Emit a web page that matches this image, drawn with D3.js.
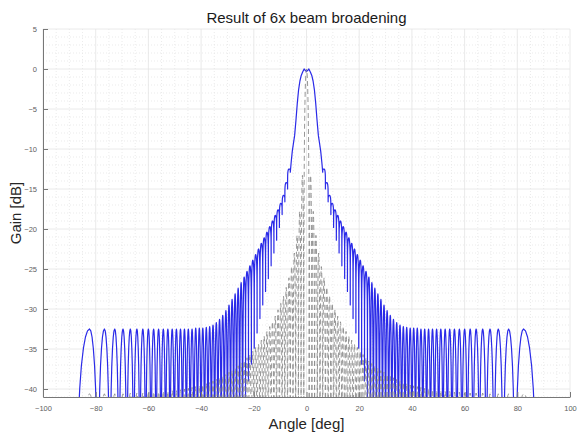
<!DOCTYPE html>
<html><head><meta charset="utf-8">
<script src="https://cdn.jsdelivr.net/npm/d3@7"></script>
<style>body{margin:0;background:#fff} svg{display:block;font-family:Arial,"Liberation Sans",sans-serif}</style>
</head><body><svg id="c" width="578" height="436"></svg>
<script>
const titleText = "Result of 6x beam broadening";
const xLabelText = "Angle [deg]";
const yLabelText = "Gain [dB]";
const angleTicks = [-100,-80,-60,-40,-20,0,20,40,60,80,100];
const gainTicks = [5,0,-5,-10,-15,-20,-25,-30,-35,-40];

// lobe peak angles (deg), left to right, centre lobe = 0
const lobeAngles = [-82.34,-76.70,-72.78,-69.64,-66.86,-64.37,-62.11,-60.00,-58.02,-56.14,-54.34,-52.62,-50.97,-49.37,-47.82,-46.32,-44.85,-43.43,-42.04,-40.68,-39.35,-38.03,-36.75,-35.48,-34.23,-33.00,-31.79,-30.59,-29.41,-28.24,-27.09,-25.94,-24.81,-23.69,-22.58,-21.47,-20.38,-19.29,-18.21,-17.14,-16.07,-15.01,-13.95,-12.90,-11.85,-10.81,-9.77,-8.73,-7.70,-6.67,-5.64,-4.61,-3.58,-2.56,-1.54,
 0,
 1.54,2.56,3.58,4.61,5.64,6.67,7.70,8.73,9.77,10.81,11.85,12.90,13.95,15.01,16.07,17.14,18.21,19.29,20.38,21.47,22.58,23.69,24.81,25.94,27.09,28.24,29.41,30.59,31.79,33.00,34.23,35.48,36.75,38.03,39.35,40.68,42.04,43.43,44.85,46.32,47.82,49.37,50.97,52.62,54.34,56.14,58.02,60.00,62.11,64.37,66.86,69.64,72.78,76.70,82.34];

// null / valley angles (deg) between lobes
const nullAngles = [-87.5,-79.15,-74.64,-71.17,-68.21,-65.60,-63.24,-61.05,-59.00,-57.07,-55.23,-53.47,-51.79,-50.16,-48.59,-47.06,-45.59,-44.14,-42.74,-41.36,-40.01,-38.68,-37.38,-36.11,-34.85,-33.61,-32.39,-31.19,-30.00,-28.82,-27.66,-26.52,-25.38,-24.25,-23.13,-22.02,-20.92,-19.83,-18.75,-17.67,-16.60,-15.54,-14.48,-13.42,-12.37,-11.33,-10.29,-9.25,-8.21,-7.18,-6.15,-5.12,-4.10,-3.07,-2.05,-1.02,
 1.02,2.05,3.07,4.10,5.12,6.15,7.18,8.21,9.25,10.29,11.33,12.37,13.42,14.48,15.54,16.60,17.67,18.75,19.83,20.92,22.02,23.13,24.25,25.38,26.52,27.66,28.82,30.00,31.19,32.39,33.61,34.85,36.11,37.38,38.68,40.01,41.36,42.74,44.14,45.59,47.06,48.59,50.16,51.79,53.47,55.23,57.07,59.00,61.05,63.24,65.60,68.21,71.17,74.64,79.15,87.5];

// broadened beam (blue): sidelobe peak levels, dB (null = inside main lobe)
const bluePeakDb = [-32.5,-32.5,-32.5,-32.5,-32.5,-32.5,-32.5,-32.5,-32.5,-32.5,-32.5,-32.5,-32.5,-32.5,-32.5,-32.5,-32.5,-32.5,-32.4,-32.4,-32.4,-32.3,-32.2,-32.0,-31.7,-31.3,-30.8,-30.2,-29.5,-28.8,-28.1,-27.4,-26.7,-26.0,-25.3,-24.6,-23.9,-23.2,-22.5,-21.8,-21.1,-20.4,-19.7,-19.0,-18.3,-17.6,-16.8,-15.8,-14.2,-12.5,null,null,null,null,null,
 null,
 null,null,null,null,null,-12.5,-14.2,-15.8,-16.8,-17.6,-18.3,-19.0,-19.7,-20.4,-21.1,-21.8,-22.5,-23.2,-23.9,-24.6,-25.3,-26.0,-26.7,-27.4,-28.1,-28.8,-29.5,-30.2,-30.8,-31.3,-31.7,-32.0,-32.2,-32.3,-32.4,-32.4,-32.4,-32.5,-32.5,-32.5,-32.5,-32.5,-32.5,-32.5,-32.5,-32.5,-32.5,-32.5,-32.5,-32.5,-32.5,-32.5,-32.5,-32.5,-32.5];

// broadened beam (blue): valley levels at the nulls, dB (null = true null)
const blueValleyDb = [null,null,null,null,null,null,null,null,null,null,null,null,null,null,null,null,null,null,null,null,null,null,null,null,null,null,null,null,null,null,null,null,null,null,-41.5,-39.0,-36.9,-34.9,-33.0,-31.2,-29.5,-27.8,-26.2,-24.6,-23.0,-21.4,-19.8,-18.2,-16.6,-15.0,-12.9,null,null,null,null,null,
 null,null,null,null,null,-12.9,-15.0,-16.6,-18.2,-19.8,-21.4,-23.0,-24.6,-26.2,-27.8,-29.5,-31.2,-33.0,-34.9,-36.9,-39.0,-41.5,null,null,null,null,null,null,null,null,null,null,null,null,null,null,null,null,null,null,null,null,null,null,null,null,null,null,null,null,null,null,null,null,null,null];

// broadened beam (blue): main lobe
const blueMainAngles = [-5.8,-5.4,-5.0,-4.5,-4.0,-3.5,-3.0,-2.5,-2.0,-1.5,-0.9,-0.4,0,0.4,0.9,1.5,2.0,2.5,3.0,3.5,4.0,4.5,5.0,5.4,5.8];
const blueMainDb = [-11.6,-10.3,-9.4,-8.3,-6.4,-4.3,-2.6,-1.5,-0.8,-0.4,0,-0.2,-0.3,-0.2,0,-0.4,-0.8,-1.5,-2.6,-4.3,-6.4,-8.3,-9.4,-10.3,-11.6];

// original beam (gray dashed): lobe peak levels, dB
const grayPeakDb = [-40.6,-40.6,-40.6,-40.6,-40.5,-40.5,-40.5,-40.5,-40.4,-40.4,-40.3,-40.3,-40.2,-40.2,-40.1,-40.0,-39.9,-39.8,-39.7,-39.6,-39.5,-39.3,-39.2,-39.0,-38.8,-38.6,-38.4,-38.2,-37.9,-37.7,-37.4,-37.1,-36.8,-36.5,-36.1,-35.7,-35.3,-34.8,-34.4,-33.9,-33.4,-32.8,-32.2,-31.6,-30.9,-30.1,-29.3,-28.4,-27.3,-26.1,-24.7,-23.0,-20.8,-17.8,-13.3,
 0,
 -13.3,-17.8,-20.8,-23.0,-24.7,-26.1,-27.3,-28.4,-29.3,-30.1,-30.9,-31.6,-32.2,-32.8,-33.4,-33.9,-34.4,-34.8,-35.3,-35.7,-36.1,-36.5,-36.8,-37.1,-37.4,-37.7,-37.9,-38.2,-38.4,-38.6,-38.8,-39.0,-39.2,-39.3,-39.5,-39.6,-39.7,-39.8,-39.9,-40.0,-40.1,-40.2,-40.2,-40.3,-40.3,-40.4,-40.4,-40.5,-40.5,-40.5,-40.5,-40.6,-40.6,-40.6,-40.6];

// ---------- drawing ----------
const svg = d3.select("#c");
const L = 43, R = 570, T = 29, B = 397;
const x = d3.scaleLinear().domain([-100,100]).range([L,R]);
const y = d3.scaleLinear().domain([-41,5]).range([B,T]);

svg.append("defs").append("clipPath").attr("id","clip")
  .append("rect").attr("x",L).attr("y",T).attr("width",R-L).attr("height",B-T);

// grid (minor dotted, major solid)
const g = svg.append("g");
const minorX = d3.range(-100,101,5).filter(v => v % 20 !== 0);
const minorY = d3.range(-41,6,1).filter(v => v % 5 !== 0);
g.selectAll(".mx").data(minorX).join("line")
  .attr("x1",d=>x(d)).attr("x2",d=>x(d)).attr("y1",T).attr("y2",B)
  .attr("stroke","#e6e6e6").attr("stroke-width",0.8).attr("stroke-dasharray","1,2");
g.selectAll(".my").data(minorY).join("line")
  .attr("y1",d=>y(d)).attr("y2",d=>y(d)).attr("x1",L).attr("x2",R)
  .attr("stroke","#e6e6e6").attr("stroke-width",0.8).attr("stroke-dasharray","1,2");
g.selectAll(".Mx").data(angleTicks).join("line")
  .attr("x1",d=>x(d)).attr("x2",d=>x(d)).attr("y1",T).attr("y2",B)
  .attr("stroke","#e4e4e4").attr("stroke-width",0.8);
g.selectAll(".My").data(gainTicks).join("line")
  .attr("y1",d=>y(d)).attr("y2",d=>y(d)).attr("x1",L).attr("x2",R)
  .attr("stroke","#e4e4e4").attr("stroke-width",0.8);

// lobe rendering template (shape of one lobe half, null -> peak)
const lobeS = [0,0.02,0.05,0.1,0.18,0.28,0.4,0.55,0.7,0.85,1];
const lobeDrop = [60,30,22,16,11,7.4,4.6,2.4,1,0.24,0];

function halfLobe(pts, a0, v0, ap, pp, rising){
  const D = (v0 == null) ? null : pp - v0;
  const idx = rising ? d3.range(lobeS.length) : d3.range(lobeS.length).reverse();
  for (const j of idx) {
    const a = a0 + (ap - a0) * lobeS[j];
    const drop = D == null ? lobeDrop[j] : D * lobeDrop[j] / 60;
    pts.push([a, pp - drop]);
  }
}
function buildPattern(peaks, valleys, mainA, mainD){
  const pts = [];
  const c = (lobeAngles.length - 1) / 2;
  for (let i = 0; i < lobeAngles.length; i++){
    if (peaks[i] == null) {
      if (i === c && mainA) mainA.forEach((a,k) => pts.push([a, mainD[k]]));
      continue;
    }
    halfLobe(pts, nullAngles[i], valleys ? valleys[i] : null, lobeAngles[i], peaks[i], true);
    halfLobe(pts, nullAngles[i+1], valleys ? valleys[i+1] : null, lobeAngles[i], peaks[i], false);
  }
  return pts;
}

const line = d3.line().x(d => x(d[0])).y(d => y(d[1])).curve(d3.curveLinear);
const plot = svg.append("g").attr("clip-path","url(#clip)");

plot.append("path").datum(buildPattern(bluePeakDb, blueValleyDb, blueMainAngles, blueMainDb))
  .attr("d", line).attr("fill","none").attr("stroke","#2a2ae8").attr("stroke-width",1.2)
  .attr("stroke-linejoin","round");
plot.append("path").datum(buildPattern(grayPeakDb, null, null, null))
  .attr("d", line).attr("fill","none").attr("stroke","#8c8c8c").attr("stroke-width",0.9)
  .attr("stroke-dasharray","5,3");

// axes
const ax = svg.append("g").attr("transform",`translate(0,${B})`)
  .call(d3.axisBottom(x).tickValues(angleTicks).tickSize(-5).tickSizeOuter(0).tickPadding(9));
const ay = svg.append("g").attr("transform",`translate(${L},0)`)
  .call(d3.axisLeft(y).tickValues(gainTicks).tickSize(-5).tickSizeOuter(0).tickPadding(6));
[ax, ay].forEach(a => {
  a.select(".domain").attr("stroke","#777").attr("stroke-width",1);
  a.selectAll(".tick line").attr("stroke","#777");
  a.selectAll(".tick text").attr("fill","#606060").style("font-size","7.5px")
    .style("font-family","Arial, 'Liberation Sans', sans-serif");
});

svg.append("text").attr("x",306.5).attr("y",22.5).attr("text-anchor","middle")
  .style("font-size","15px").attr("fill","#1a1a1a").text(titleText);
svg.append("text").attr("x",306.5).attr("y",429).attr("text-anchor","middle")
  .style("font-size","15px").attr("fill","#262626").text(xLabelText);
svg.append("text").attr("transform","translate(21,213) rotate(-90)").attr("text-anchor","middle")
  .style("font-size","15px").attr("fill","#262626").text(yLabelText);
</script></body></html>
